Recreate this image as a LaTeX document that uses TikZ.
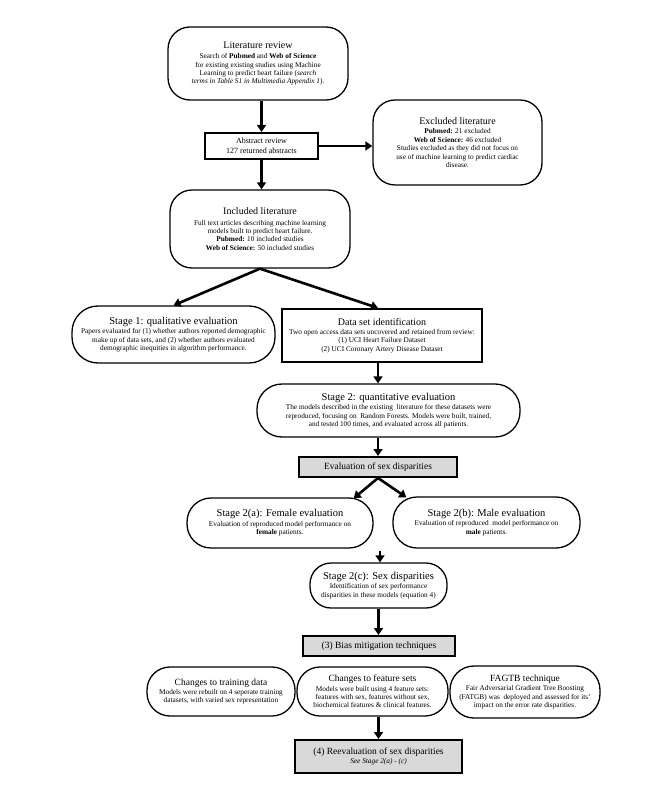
\documentclass[tikz,border=0pt]{standalone}
\usepackage{fontspec}
\setmainfont{Liberation Serif}
\usetikzlibrary{arrows.meta}
\definecolor{boxgray}{gray}{0.85}
\begin{document}
\begin{tikzpicture}[x=1pt,y=-1pt,
  body/.style={font=\fontsize{7.3}{8.4}\selectfont},
  rbox/.style={draw, line width=1.3pt, fill=white, inner sep=0pt, align=center, rounded corners=#1, body},
  sbox/.style={draw, line width=2pt, fill=white, inner sep=0pt, align=center, body},
  gbox/.style={sbox, fill=boxgray},
  arr/.style={line width=2.6pt, -{Triangle[width=9pt,length=7pt]}}]
\useasboundingbox (0,0) rectangle (666,799);
\fill[white] (0,0) rectangle (666,799);

\node[rbox=22pt, minimum width=180pt, minimum height=73pt] (lit) at (258,63.5)
 {{\fontsize{10}{11}\selectfont Literature review}\\[2pt]
  Search of \textbf{Pubmed} and \textbf{Web of Science}\\
  for existing existing studies using Machine\\
  Learning to predict heart failure (\textit{search}\\
  \textit{terms in Table S1 in Multimedia Appendix 1}).};

\node[sbox, minimum width=113pt, minimum height=26pt, font=\fontsize{8}{9.5}\selectfont] (abs) at (261.5,146)
 {Abstract review\\127 returned abstracts};

\node[rbox=22pt, minimum width=169pt, minimum height=85pt] (exc) at (457.5,142.5)
 {{\fontsize{10}{11}\selectfont Excluded literature}\\[1pt]
  \textbf{Pubmed:} 21 excluded\\
  \textbf{Web of Science:} 46 excluded\\
  Studies excluded as they did not focus on\\
  use of machine learning to predict cardiac\\
  disease.};

\node[rbox=22pt, minimum width=180pt, minimum height=78pt] (inc) at (260,229)
 {{\fontsize{10}{11}\selectfont Included literature}\\[2pt]
  Full text articles describing machine learning\\
  models built to predict heart failure.\\
  \textbf{Pubmed:} 10 included studies\\
  \textbf{Web of Science:} 50 included studies};

\node[rbox=26pt, minimum width=203pt, minimum height=57pt] (s1) at (173.5,334.5)
 {{\fontsize{10.5}{12}\selectfont Stage 1: qualitative evaluation}\\[1pt]
  Papers evaluated for (1) whether authors reported demographic\\
  make up of data sets, and (2) whether authors evaluated\\
  demographic inequities in algorithm performance.};

\node[sbox, minimum width=200pt, minimum height=53pt] (ds) at (382,335.5)
 {{\fontsize{10}{11}\selectfont Data set identification}\\[1pt]
  Two open access data sets uncovered and retained from review:\\
  (1) UCI Heart Failure Dataset\\
  (2) UCI Coronary Artery Disease Dataset};

\node[rbox=25pt, minimum width=263pt, minimum height=53pt] (s2) at (388.5,410.5)
 {{\fontsize{10.5}{12}\selectfont Stage 2: quantitative evaluation}\\[1pt]
  The models described in the existing\ \ literature for these datasets were\\
  reproduced, focusing on\ \ Random Forests. Models were built, trained,\\
  and tested 100 times, and evaluated across all patients.};

\node[gbox, minimum width=158pt, minimum height=20pt, font=\fontsize{9.5}{11}\selectfont] (ev) at (378,467)
 {Evaluation of sex disparities};

\node[rbox=24pt, minimum width=186pt, minimum height=50pt] (s2a) at (280,523)
 {{\fontsize{10.5}{12}\selectfont Stage 2(a): Female evaluation}\\[1pt]
  Evaluation of reproduced model performance on\\
  \textbf{female} patients.};

\node[rbox=24pt, minimum width=187pt, minimum height=51pt] (s2b) at (486.5,522.5)
 {{\fontsize{10.5}{12}\selectfont Stage 2(b): Male evaluation}\\[1pt]
  Evaluation of reproduced\ \ model performance on\\
  \textbf{male} patients.};

\coordinate (mid) at (380,551);

\node[rbox=21pt, minimum width=137pt, minimum height=45pt] (s2c) at (378.5,585.5)
 {{\fontsize{10.5}{12}\selectfont Stage 2(c): Sex disparities}\\[1pt]
  Identification of sex performance\\
  disparities in these models (equation 4)};

\node[gbox, minimum width=152pt, minimum height=20pt, font=\fontsize{9.5}{11}\selectfont] (bias) at (379,646)
 {(3) Bias mitigation techniques};

\node[rbox=23pt, minimum width=148pt, minimum height=49pt] (tr) at (221,691.5)
 {{\fontsize{9.5}{11}\selectfont Changes to training data}\\[1pt]
  Models were rebuilt on 4 seperate training\\
  datasets, with varied sex representation};

\node[rbox=23pt, minimum width=151pt, minimum height=49pt] (fs) at (372.5,691.5)
 {{\fontsize{9.5}{11}\selectfont Changes to feature sets}\\[1pt]
  Models were built using 4 feature sets:\\
  features with sex, features without sex,\\
  biochemical features \& clinical features.};

\node[rbox=24pt, minimum width=150pt, minimum height=52pt] (fa) at (525,692)
 {{\fontsize{9.5}{11}\selectfont FAGTB technique}\\[1pt]
  Fair Adversarial Gradient Tree Boosting\\
  (FATGB) was\ \ deployed and assessed for its'\\
  impact on the error rate disparities.};

\node[gbox, minimum width=167pt, minimum height=33pt] (re) at (378.5,756.5)
 {{\fontsize{9.5}{11}\selectfont (4) Reevaluation of sex disparities}\\
  \textit{See Stage 2(a) - (c)}};

% connectors
\draw[arr] (lit.south -| abs.north) -- (abs.north);
\draw[arr] (abs.east) -- (exc.west |- abs.east);
\draw[arr] (abs.south) -- (abs.south |- inc.north);
\draw[arr] (inc.south) -- (s1.north);
\draw[arr] (inc.south) -- ([xshift=-4pt]ds.north);
\draw[arr] ([xshift=-4pt]ds.south) -- ([xshift=-4pt]ds.south |- s2.north);
\draw[arr] (ev.north |- s2.south) -- (ev.north);
\draw[arr] (ev.south) -- ([xshift=-20pt,yshift=-1pt]s2a.north east);
\draw[arr] (ev.south) -- ([xshift=14pt,yshift=-1pt]s2b.north west);
\draw[arr] (mid) -- (mid |- s2c.north);
\draw[arr] (s2c.south) -- (s2c.south |- bias.north);
\draw[arr] (re.north |- fs.south) -- (re.north);
\end{tikzpicture}
\end{document}
